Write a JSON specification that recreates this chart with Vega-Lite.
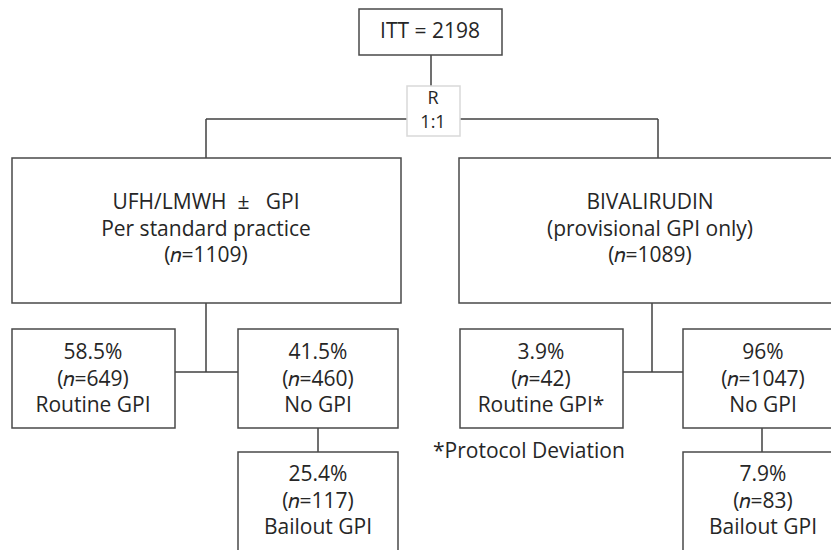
{
  "$schema": "https://vega.github.io/schema/vega-lite/v6.json",
  "width": 831,
  "height": 550,
  "autosize": {"type": "fit", "contains": "padding"},
  "padding": 0,
  "background": "white",
  "config": {"view": {"stroke": null}},
  "datasets": {
    "lines": [
      {"x": 431, "y": 55, "x2": 431, "y2": 90},
      {"x": 206, "y": 119, "x2": 658, "y2": 119},
      {"x": 206, "y": 119, "x2": 206, "y2": 158},
      {"x": 658, "y": 119, "x2": 658, "y2": 158},
      {"x": 206, "y": 303, "x2": 206, "y2": 372},
      {"x": 175, "y": 372, "x2": 238, "y2": 372},
      {"x": 318, "y": 428, "x2": 318, "y2": 452},
      {"x": 652, "y": 303, "x2": 652, "y2": 372},
      {"x": 623, "y": 372, "x2": 683, "y2": 372},
      {"x": 762, "y": 428, "x2": 762, "y2": 452}
    ],
    "boxes": [
      {"name": "ITT", "x": 359, "x2": 502, "y": 9, "y2": 55, "border": "main"},
      {"name": "R", "x": 407, "x2": 460, "y": 86, "y2": 136, "border": "light"},
      {"name": "UFH", "x": 12, "x2": 401, "y": 158, "y2": 303, "border": "main"},
      {"name": "BIV", "x": 459, "x2": 845, "y": 158, "y2": 303, "border": "main"},
      {"name": "UFH routine", "x": 12, "x2": 175, "y": 329, "y2": 428, "border": "main"},
      {"name": "UFH none", "x": 238, "x2": 398, "y": 329, "y2": 428, "border": "main"},
      {"name": "UFH bailout", "x": 238, "x2": 398, "y": 452, "y2": 565, "border": "main"},
      {"name": "BIV routine", "x": 460, "x2": 623, "y": 329, "y2": 428, "border": "main"},
      {"name": "BIV none", "x": 683, "x2": 845, "y": 329, "y2": 428, "border": "main"},
      {"name": "BIV bailout", "x": 683, "x2": 845, "y": 452, "y2": 565, "border": "main"}
    ],
    "labels": [
      {"x": 430, "y": 32, "text": "ITT = 2198"},
      {"x": 206, "y": 203, "text": "UFH/LMWH \u00a0±\u00a0\u00a0 GPI\nPer standard practice\n(𝑛=1109)"},
      {"x": 650, "y": 203, "text": "BIVALIRUDIN\n(provisional GPI only)\n(𝑛=1089)"},
      {"x": 93, "y": 353, "text": "58.5%\n(𝑛=649)\nRoutine GPI"},
      {"x": 318, "y": 353, "text": "41.5%\n(𝑛=460)\nNo GPI"},
      {"x": 318, "y": 475, "text": "25.4%\n(𝑛=117)\nBailout GPI"},
      {"x": 541, "y": 353, "text": "3.9%\n(𝑛=42)\nRoutine GPI*"},
      {"x": 763, "y": 353, "text": "96%\n(𝑛=1047)\nNo GPI"},
      {"x": 763, "y": 475, "text": "7.9%\n(𝑛=83)\nBailout GPI"}
    ],
    "rlabel": [
      {"x": 433, "y": 99, "text": "R\n1:1"}
    ],
    "notes": [
      {"x": 433, "y": 452, "text": "*Protocol Deviation"}
    ]
  },
  "layer": [
    {
      "data": {"name": "lines"},
      "mark": {"type": "rule", "color": "#404040", "strokeWidth": 1.5},
      "encoding": {
        "x": {"field": "x", "type": "quantitative", "scale": {"domain": [0, 831]}, "axis": null},
        "x2": {"field": "x2"},
        "y": {"field": "y", "type": "quantitative", "scale": {"domain": [0, 550], "reverse": true}, "axis": null},
        "y2": {"field": "y2"}
      }
    },
    {
      "data": {"name": "boxes"},
      "mark": {"type": "rect", "fill": "white", "strokeWidth": 1.5, "clip": true},
      "encoding": {
        "x": {"field": "x", "type": "quantitative", "scale": {"domain": [0, 831]}, "axis": null},
        "x2": {"field": "x2"},
        "y": {"field": "y", "type": "quantitative", "scale": {"domain": [0, 550], "reverse": true}, "axis": null},
        "y2": {"field": "y2"},
        "stroke": {"field": "border", "type": "nominal", "scale": {"domain": ["main", "light"], "range": ["#4a4a4a", "#d9d9d9"]}, "legend": null}
      }
    },
    {
      "data": {"name": "labels"},
      "mark": {"type": "text", "font": "Open Sans", "fontSize": 21, "color": "#262626", "baseline": "middle", "align": "center", "lineBreak": "\n", "lineHeight": 26.5},
      "encoding": {
        "x": {"field": "x", "type": "quantitative", "scale": {"domain": [0, 831]}, "axis": null},
        "y": {"field": "y", "type": "quantitative", "scale": {"domain": [0, 550], "reverse": true}, "axis": null},
        "text": {"field": "text"}
      }
    },
    {
      "data": {"name": "rlabel"},
      "mark": {"type": "text", "font": "Open Sans", "fontSize": 18, "color": "#262626", "baseline": "middle", "align": "center", "lineBreak": "\n", "lineHeight": 24},
      "encoding": {
        "x": {"field": "x", "type": "quantitative", "scale": {"domain": [0, 831]}, "axis": null},
        "y": {"field": "y", "type": "quantitative", "scale": {"domain": [0, 550], "reverse": true}, "axis": null},
        "text": {"field": "text"}
      }
    },
    {
      "data": {"name": "notes"},
      "mark": {"type": "text", "font": "Open Sans", "fontSize": 21, "color": "#262626", "baseline": "middle", "align": "left"},
      "encoding": {
        "x": {"field": "x", "type": "quantitative", "scale": {"domain": [0, 831]}, "axis": null},
        "y": {"field": "y", "type": "quantitative", "scale": {"domain": [0, 550], "reverse": true}, "axis": null},
        "text": {"field": "text"}
      }
    }
  ]
}
